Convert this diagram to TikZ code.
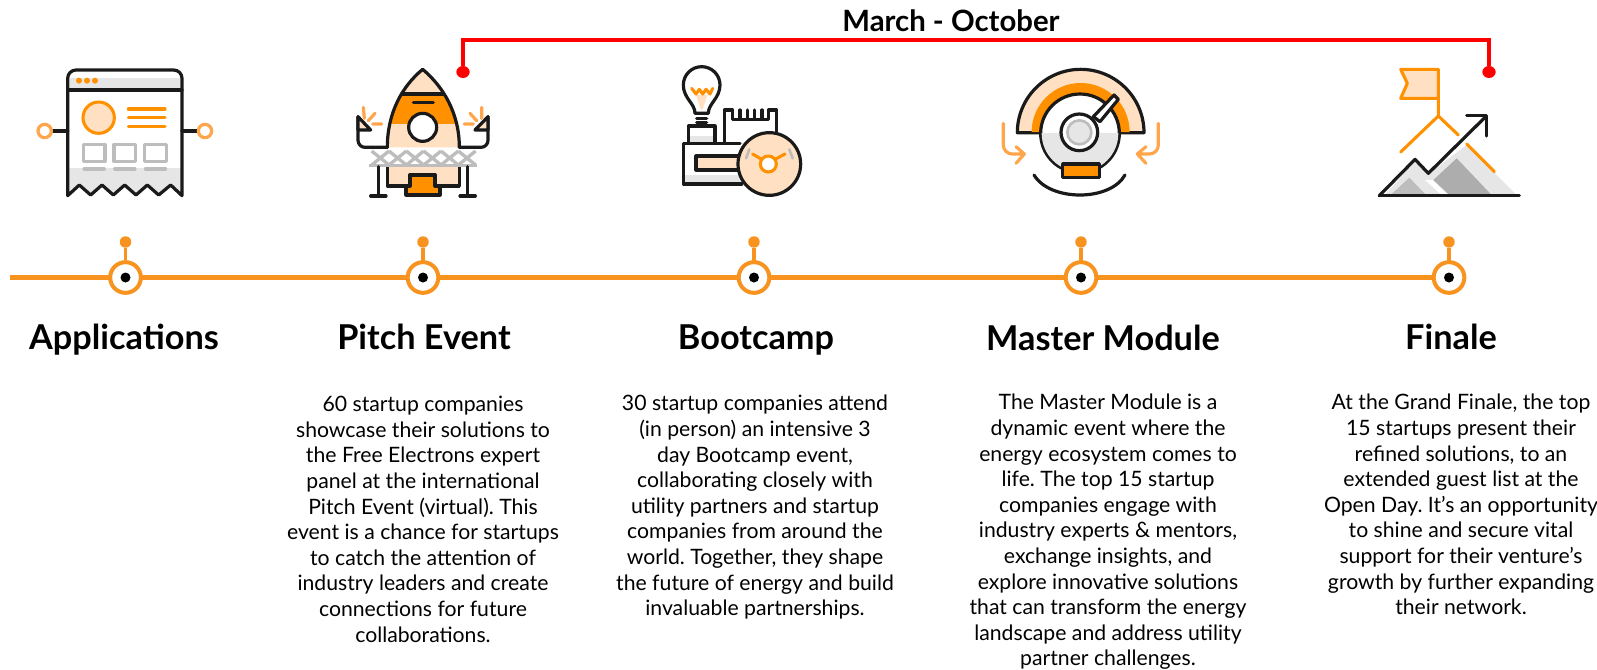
\documentclass[tikz,border=0pt]{standalone}
\usepackage{fontspec}
\setmainfont{Lato}
\frenchspacing
\definecolor{org}{HTML}{F7931E}
\definecolor{deep}{HTML}{FF9000}
\definecolor{lorg}{HTML}{FFA64D}
\definecolor{peach}{HTML}{FFE0C2}
\definecolor{lg}{HTML}{E6E6E6}
\definecolor{mg}{HTML}{BDBDBD}
\definecolor{dk}{HTML}{1A1A1A}
\tikzset{
  tick/.style={circle,draw=org,line width=3pt,fill=white,minimum size=23pt,inner sep=0pt,outer sep=0pt},
  bead/.style={circle,fill=org,minimum size=8.6pt,inner sep=0pt},
  eye/.style={circle,fill=black,minimum size=7.5pt,inner sep=0pt},
  reddot/.style={ellipse,fill=red,minimum width=10pt,minimum height=9pt,inner sep=0pt},
  head/.style={font=\fontsize{25.7}{30}\selectfont\bfseries,text=black,inner sep=0pt,anchor=base},
  body/.style={font=\fontsize{15.9}{19.2}\selectfont,align=center,text=black,inner sep=0pt,anchor=north},
  bl/.style={draw=dk,line width=2.4pt,line cap=round,line join=round},
  ol/.style={draw=deep,line width=2.3pt,line cap=round,line join=round},
  icon/.style={x=0.25pt,y=-0.25pt},
}
\usetikzlibrary{shapes.geometric}
\begin{document}
\begin{tikzpicture}[x=0.75pt,y=-0.75pt]
\useasboundingbox (0,0) rectangle (1597,669);
% timeline
\coordinate (start) at (10,277.5);
\foreach \n/\x in {t1/125.5,t2/423,t3/754,t4/1081,t5/1449}{
  \node[tick] (\n) at (\x,277.5) {};
  \node[eye] at (\n) {};
  \node[bead] (\n b) at (\x,242) {};
  \draw[org,line width=2.6pt] (\n b) -- (\n);
}
\draw[org,line width=3.2pt] (start) -- (t1) (t1) -- (t2) (t2) -- (t3) (t3) -- (t4) (t4) -- (t5);
% bracket
\node[reddot] (ra) at (463,72) {};
\node[reddot] (rb) at (1489,72) {};
\draw[red,line width=3pt] (ra) |- (rb |- 0,40) -- (rb);
\node[font=\fontsize{22}{26}\selectfont\bfseries,inner sep=0pt,anchor=base] (title) at (951,31) {March - October};
% headings
\node[head] (h1) at (124,349) {Applications};
\node[head] (h2) at (424,349) {Pitch Event};
\node[head] (h3) at (756,349) {Bootcamp};
\node[head] (h4) at (1103,350) {Master Module};
\node[head] (h5) at (1451,349) {Finale};
% body
\node[body] (b2) at (423,396) {60 startup companies\\showcase their solutions to\\the Free Electrons expert\\panel at the international\\Pitch Event (virtual). This\\event is a chance for startups\\to catch the attention of\\industry leaders and create\\connections for future\\collaborations.};
\node[body] (b3) at (755,395) {30 startup companies attend\\(in person) an intensive 3\\day Bootcamp event,\\collaborating closely with\\utility partners and startup\\companies from around the\\world. Together, they shape\\the future of energy and build\\invaluable partnerships.};
\node[body] (b4) at (1108,394) {The Master Module is a\\dynamic event where the\\energy ecosystem comes to\\life. The top 15 startup\\companies engage with\\industry experts \& mentors,\\exchange insights, and\\explore innovative solutions\\that can transform the energy\\landscape and address utility\\partner challenges.};
\node[body] (b5) at (1461,394) {At the Grand Finale, the top\\15 startups present their\\refined solutions, to an\\extended guest list at the\\Open Day. It's an opportunity\\to shine and secure vital\\support for their venture's\\growth by further expanding\\their network.};
% ---- icon 1
\begin{scope}[shift={(0,50)},icon]
 \fill[lg] (203,355) rectangle (546,437);
 \fill[white] (203,437)--(238,405)--(272,435)--(306,405)--(340,435)--(374,405)--(408,435)--(442,405)--(476,435)--(512,405)--(546,437)--(546,470)--(203,470)--cycle;
 \fill[lg] (210,85) rectangle (540,120);
 \draw[bl] (203,437)--(203,85) arc (180:270:25) --(521,60) arc (-90:0:25) --(546,437)--(512,405)--(476,435)--(442,405)--(408,435)--(374,405)--(340,435)--(306,405)--(272,435)--(238,405)--cycle;
 \draw[bl] (203,120)--(546,120);
 \foreach \x in {237,261,285} \fill[deep] (\x,92) circle (9);
 \draw[ol,fill=peach] (296,203) circle (47);
 \foreach \y in {177,203,229} \draw[ol] (385,\y)--(495,\y);
 \foreach \x in {250,342,434}{
  \draw[mg,line width=2.3pt,line join=round] (\x,283) rectangle (\x+65,335);
  \draw[mg,line width=2.8pt,line cap=round] (\x+3,356)--(\x+62,356);
 }
 \draw[bl] (160,243)--(203,243) (546,243)--(590,243);
 \draw[lorg,line width=2.4pt,fill=white] (134,243) circle (20) (615,243) circle (20);
\end{scope}
% ---- icon 2
\begin{scope}[shift={(330,50)},icon]
 \begin{scope}
  \clip (172,292) .. controls (172,190) and (215,110) .. (278,58) .. controls (340,110) and (388,190) .. (388,292) -- cycle;
  \fill[peach] (160,50) rectangle (400,300);
  \fill[deep] (160,132) rectangle (400,222);
 \end{scope}
 \draw[bl] (172,292) .. controls (172,190) and (215,110) .. (278,58) .. controls (340,110) and (388,190) .. (388,292);
 \draw[bl] (215,132)--(340,132);
 \draw[bl] (250,158)--(310,158);
 \draw[bl,fill=white] (278,232) circle (42);
 \draw[bl,fill=peach] (172,350)--(172,408)--(240,408)--(240,375)--(315,375)--(315,408)--(388,408)--(388,350);
 \draw[bl,fill=deep] (240,375)--(315,375)--(315,408)--(330,408)--(330,435)--(228,435)--(228,408)--(240,408)--cycle;
 \foreach \x in {125,177,229,281,333,385}
  \draw[mg,line width=2.5pt] (\x,303)--(\x+52,345) (\x+52,303)--(\x,345);
 \draw[mg,line width=2.6pt] (118,347)--(440,347);
 \draw[bl] (145,350)--(145,437) (412,350)--(412,437) (122,438)--(168,438) (390,438)--(436,438);
 \draw[bl] (172,292)--(105,292) arc (90:180:21)--(84,200);
 \draw[bl] (388,292)--(453,292) arc (90:0:21)--(474,200);
 \draw[bl,fill=peach] (84,200)--(122,240)--(84,240)--cycle;
 \draw[bl,fill=peach] (474,200)--(435,240)--(474,240)--cycle;
 \draw[lorg,line width=2.4pt,line cap=round] (100,172)--(103,205) (135,190)--(115,212) (155,222)--(128,222) (455,172)--(455,205) (420,190)--(440,212) (403,222)--(430,222);
\end{scope}
% ---- icon 3
\begin{scope}[shift={(660,50)},icon]
 \fill[peach] (108,135)--(142,135)--(128,178)--(122,178)--cycle;
 \draw[bl] (105,190) .. controls (105,160) and (70,145) .. (70,105) arc (180:360:55) .. controls (180,145) and (145,160) .. (145,190)--cycle;
 \draw[ol] (95,115)--(108,132)--(118,118)--(128,132)--(138,118)--(150,132)--(158,115);
 \draw[bl] (110,205)--(140,205) (110,218)--(140,218);
 \fill[lg] (90,258) rectangle (162,276);
 \draw[bl] (85,278)--(85,228)--(165,228)--(165,278);
 \fill[lg] (72,375) rectangle (250,400);
 \draw[bl] (245,402)--(70,402)--(70,280)--(240,280);
 \draw[bl] (193,278)--(193,180)--(218,180)--(218,208)--(325,208)--(325,180)--(350,180)--(350,245);
 \draw[bl] (240,180)--(240,208) (262,180)--(262,208) (284,180)--(284,208) (306,180)--(306,208);
 \draw[bl,fill=peach] (232,318)--(108,318)--(108,360)--(232,360);
 \draw[bl,fill=peach] (328,342) circle (94);
 \draw[ol,fill=white] (325,342) circle (24);
 \draw[ol] (278,312)--(305,328) (375,312)--(345,328);
 \draw[mg,line width=2pt,line cap=round] (258,325) -- (268,298) (398,325)--(388,298);
\end{scope}
% ---- icon 4
\begin{scope}[shift={(990,50)},icon]
 \draw[bl,fill=peach] (82,248) arc (180:360:190) --(388,248)--(152,248)--cycle;
 \fill[deep] (125,246) arc (180:360:147) --(388,246)--(152,246)--cycle;
 \draw[bl,fill=white] (270,250) circle (118);
 \begin{scope}
  \clip (270,250) circle (115);
  \fill[lg] (150,248) rectangle (390,370);
 \end{scope}
 \draw[bl,fill=deep] (218,342) rectangle (328,382);
 \draw[bl,fill=white] (310,200)--(372,135)--(385,148)--(330,215)--cycle;
 \draw[bl,fill=white] (268,247) circle (55);
 \draw[mg,line width=2pt,fill=lg] (268,247) circle (36);
 \draw[bl] (132,375) .. controls (180,455) and (360,455) .. (405,375);
 \draw[lorg,line width=2.4pt,line cap=round,line join=round] (40,220)--(40,285) arc (180:90:27)--(100,312) (78,290)--(103,312)--(78,340);
 \draw[lorg,line width=2.4pt,line cap=round,line join=round] (505,220)--(505,285) arc (0:90:27)--(445,312) (468,290)--(442,312)--(468,340);
\end{scope}
% ---- icon 5
\begin{scope}[shift={(1360,30)},icon]
 \fill[lg] (75,495)--(165,392)--(205,432)--(320,345)--(470,495)--cycle;
 \fill[white] (195,450)--(218,450)--(265,495)--(245,495)--cycle;
 \fill[mg] (95,492)--(148,443)--(195,492)--cycle;
 \fill[black!32] (220,450)--(290,385)--(392,492)--(265,492)--cycle;
 \draw[ol,fill=peach] (122,118)--(235,118)--(235,205)--(122,205)--(142,160)--cycle;
 \draw[ol] (235,205)--(235,258) (122,366)--(235,258)--(295,315) (320,342)--(403,425);
 \draw[bl] (58,497)--(478,497);
 \draw[bl] (58,497)--(165,388)--(205,430)--(375,262);
 \draw[bl] (320,257)--(380,257)--(380,318);
\end{scope}
\end{tikzpicture}
\end{document}
